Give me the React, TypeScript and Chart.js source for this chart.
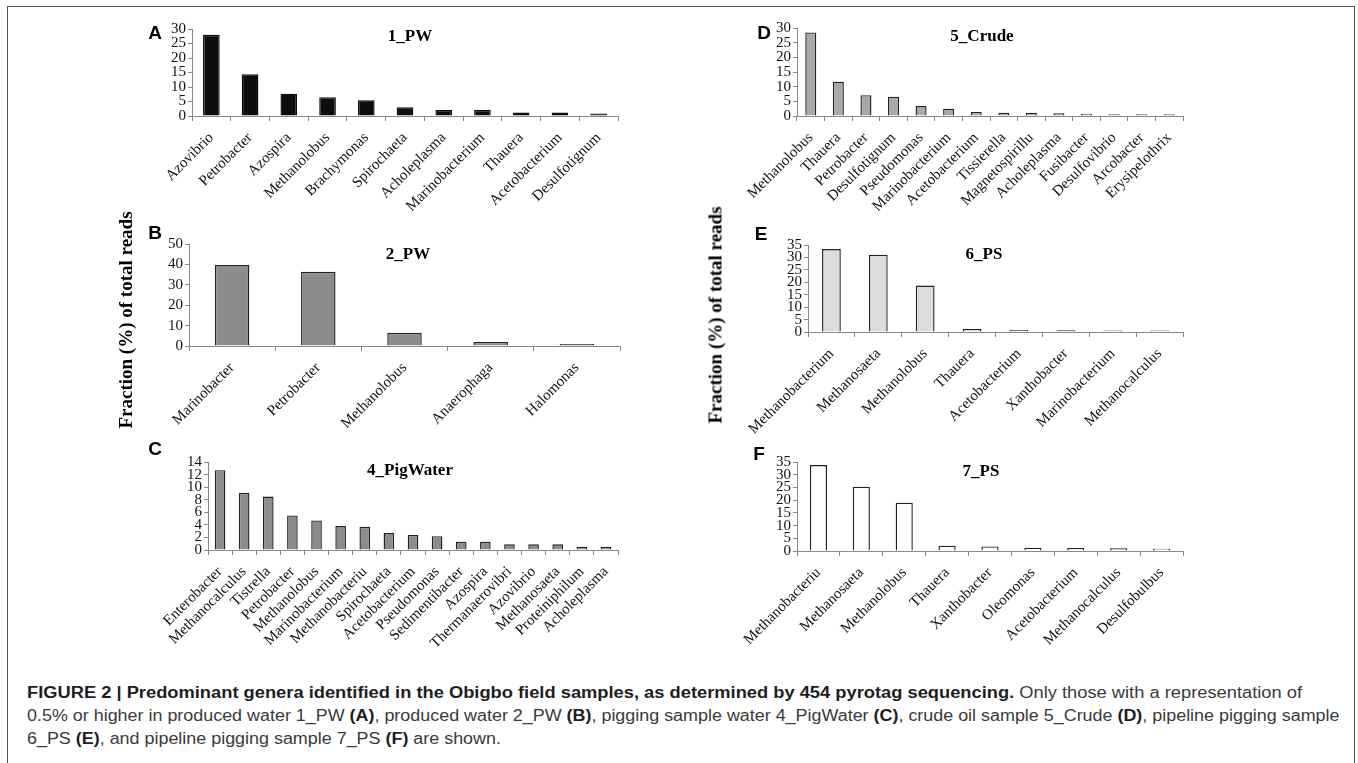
import React, { useEffect, useLayoutEffect, useRef } from "react";
import { Chart, registerables } from "chart.js";

Chart.register(...registerables);

// ---------------- data ----------------
const pw1Genera = ["Azovibrio", "Petrobacter", "Azospira", "Methanolobus", "Brachymonas", "Spirochaeta", "Acholeplasma", "Marinobacterium", "Thauera", "Acetobacterium", "Desulfotignum"];
const pw1Values = [28.0, 14.4, 7.7, 6.5, 5.4, 3.0, 2.1, 2.1, 1.2, 1.2, 0.9];
const pw1Ticks = [0, 5, 10, 15, 20, 25, 30];

const pw2Genera = ["Marinobacter", "Petrobacter", "Methanolobus", "Anaerophaga", "Halomonas"];
const pw2Values = [39.7, 36.4, 6.5, 2.0, 1.0];
const pw2Ticks = [0, 10, 20, 30, 40, 50];

const pigGenera = ["Enterobacter", "Methanocalculus", "Tistrella", "Petrobacter", "Methanolobus", "Marinobacterium", "Methanobacteriu", "Spirochaeta", "Acetobacterium", "Pseudomonas", "Sedimentibacter", "Azospira", "Thermanaerovibri", "Azovibrio", "Methanosaeta", "Proteiniphilum", "Acholeplasma"];
const pigValues = [12.7, 9.1, 8.5, 5.5, 4.7, 3.8, 3.7, 2.7, 2.4, 2.2, 1.3, 1.3, 0.9, 0.9, 0.9, 0.5, 0.5];
const pigTicks = [0, 2, 4, 6, 8, 10, 12, 14];

const crudeGenera = ["Methanolobus", "Thauera", "Petrobacter", "Desulfotignum", "Pseudomonas", "Marinobacterium", "Acetobacterium", "Tissierella", "Magnetospirillu", "Acholeplasma", "Fusibacter", "Desulfovibrio", "Arcobacter", "Erysipelothrix"];
const crudeValues = [28.5, 11.7, 7.1, 6.6, 3.4, 2.5, 1.4, 1.15, 1.15, 0.9, 0.8, 0.6, 0.6, 0.6];
const crudeTicks = [0, 5, 10, 15, 20, 25, 30];

const ps6Genera = ["Methanobacterium", "Methanosaeta", "Methanolobus", "Thauera", "Acetobacterium", "Xanthobacter", "Marinobacterium", "Methanocalculus"];
const ps6Values = [33.4, 31.1, 18.7, 1.2, 0.8, 0.7, 0.6, 0.6];
const ps6Ticks = [0, 5, 10, 15, 20, 25, 30, 35];

const ps7Genera = ["Methanobacteriu", "Methanosaeta", "Methanolobus", "Thauera", "Xanthobacter", "Oleomonas", "Acetobacterium", "Methanocalculus", "Desulfobulbus"];
const ps7Values = [33.8, 25.3, 19.0, 2.1, 1.8, 1.3, 1.2, 1.05, 0.9];
const ps7Ticks = [0, 5, 10, 15, 20, 25, 30, 35];

const panelLetters = ["A", "B", "C", "D", "E", "F"];
const panelTitles = ["1_PW", "2_PW", "4_PigWater", "5_Crude", "6_PS", "7_PS"];
const yAxisTitle = "Fraction (%) of total reads";

// ---------------- styles / layout ----------------
const SERIF = "'Liberation Serif', 'Times New Roman', serif";
const SANS = "'Liberation Sans', Arial, sans-serif";
const AXIS = "#8a8a8a";

type Rect = { left: number; top: number; width: number; height: number };
type Area = { x0: number; x1: number; top: number; bottom: number };
type PanelDef = {
  labels: string[];
  values: number[];
  ticks: number[];
  fill: string;
  border: string;
  barPct: number;
  canvas: Rect;
  area: Area;
  letter: { x: number; y: number };
  title: { x: number; y: number };
};

const panels: PanelDef[] = [
  {
    labels: pw1Genera, values: pw1Values, ticks: pw1Ticks, fill: "#0d0d0d", border: "#0d0d0d", barPct: 0.43,
    canvas: { left: 90, top: 0, width: 560, height: 230 },
    area: { x0: 192, x1: 618, top: 29, bottom: 116 },
    letter: { x: 155, y: 32 }, title: { x: 410, y: 35 },
  },
  {
    labels: pw2Genera, values: pw2Values, ticks: pw2Ticks, fill: "#8c8c8c", border: "#222222", barPct: 0.4,
    canvas: { left: 90, top: 215, width: 560, height: 230 },
    area: { x0: 189, x1: 620, top: 244, bottom: 346 },
    letter: { x: 155, y: 232 }, title: { x: 408, y: 253 },
  },
  {
    labels: pigGenera, values: pigValues, ticks: pigTicks, fill: "#8c8c8c", border: "#222222", barPct: 0.44,
    canvas: { left: 90, top: 430, width: 560, height: 250 },
    area: { x0: 208, x1: 618, top: 462, bottom: 550 },
    letter: { x: 155, y: 448 }, title: { x: 410, y: 469 },
  },
  {
    labels: crudeGenera, values: crudeValues, ticks: crudeTicks, fill: "#a9a9a9", border: "#222222", barPct: 0.4,
    canvas: { left: 680, top: 0, width: 560, height: 230 },
    area: { x0: 797, x1: 1183, top: 28, bottom: 116 },
    letter: { x: 764, y: 32 }, title: { x: 982, y: 35 },
  },
  {
    labels: ps6Genera, values: ps6Values, ticks: ps6Ticks, fill: "#dcdcdc", border: "#222222", barPct: 0.4,
    canvas: { left: 680, top: 215, width: 560, height: 230 },
    area: { x0: 808, x1: 1183, top: 245, bottom: 332 },
    letter: { x: 761, y: 233 }, title: { x: 984, y: 253 },
  },
  {
    labels: ps7Genera, values: ps7Values, ticks: ps7Ticks, fill: "#ffffff", border: "#222222", barPct: 0.4,
    canvas: { left: 680, top: 430, width: 560, height: 250 },
    area: { x0: 797, x1: 1183, top: 462, bottom: 551 },
    letter: { x: 759, y: 453 }, title: { x: 981, y: 470 },
  },
];

function BarPanel({ p }: { p: PanelDef }) {
  const ref = useRef<HTMLCanvasElement | null>(null);
  useEffect(() => {
    if (!ref.current) return;
    const { canvas, area } = p;
    const max = p.ticks[p.ticks.length - 1];
    const step = p.ticks[1] - p.ticks[0];
    const chart = new Chart(ref.current, {
      type: "bar",
      data: {
        labels: p.labels,
        datasets: [
          {
            data: p.values,
            backgroundColor: p.fill,
            borderColor: p.border,
            borderWidth: 1.4,
            borderSkipped: "start",
            barPercentage: p.barPct,
            categoryPercentage: 1,
          },
        ],
      },
      options: {
        animation: false,
        responsive: false,
        maintainAspectRatio: false,
        devicePixelRatio: 1,
        events: [],
        layout: {
          padding: {
            left: 0,
            top: area.top - canvas.top,
            right: canvas.left + canvas.width - area.x1,
            bottom: 0,
          },
        },
        plugins: {
          legend: { display: false },
          tooltip: { enabled: false },
          title: { display: false },
        },
        scales: {
          x: {
            type: "category",
            offset: true,
            grid: { offset: true, drawOnChartArea: false, drawTicks: true, tickLength: 5, color: AXIS, lineWidth: 1 },
            border: { color: AXIS, width: 1 },
            ticks: {
              autoSkip: false,
              maxRotation: 45,
              minRotation: 45,
              padding: 8,
              color: "#111111",
              font: { family: SERIF, size: 15 },
            },
            afterFit: (s: any) => {
              s.height = canvas.top + canvas.height - area.bottom;
              s.paddingLeft = 0;
              s.paddingRight = 0;
            },
          },
          y: {
            min: 0,
            max,
            ticks: {
              stepSize: step,
              autoSkip: false,
              padding: 2,
              color: "#111111",
              font: { family: SERIF, size: 15 },
            },
            grid: { drawOnChartArea: false, drawTicks: true, tickLength: 4, color: AXIS, lineWidth: 1 },
            border: { color: AXIS, width: 1 },
            afterFit: (s: any) => {
              s.width = area.x0 - canvas.left;
              s.paddingTop = 0;
              s.paddingBottom = 0;
            },
          },
        },
      } as any,
    });
    return () => chart.destroy();
  }, [p]);
  return (
    <canvas
      ref={ref}
      width={p.canvas.width}
      height={p.canvas.height}
      style={{ position: "absolute", left: p.canvas.left, top: p.canvas.top, width: p.canvas.width, height: p.canvas.height }}
    />
  );
}

const centered = (x: number, y: number, extra: React.CSSProperties = {}): React.CSSProperties => ({
  position: "absolute",
  left: x,
  top: y,
  transform: "translate(-50%, -50%)",
  whiteSpace: "nowrap",
  lineHeight: 1,
  ...extra,
});

export default function App() {
  const capRefs = useRef<(HTMLSpanElement | null)[]>([]);
  useLayoutEffect(() => {
    const fit = () => {
      const [l1, l2, l3] = capRefs.current;
      if (!l1 || !l2 || !l3) return;
      [l1, l2, l3].forEach((el) => (el.style.transform = "none"));
      const s1 = 1275 / l1.offsetWidth;
      const s2 = 1312 / l2.offsetWidth;
      l1.style.transform = `scaleX(${s1})`;
      l2.style.transform = `scaleX(${s2})`;
      l3.style.transform = `scaleX(${s2})`;
    };
    fit();
    if ((document as any).fonts && (document as any).fonts.ready) {
      (document as any).fonts.ready.then(fit);
    }
  }, []);

  const capStyle: React.CSSProperties = {
    display: "inline-block",
    transformOrigin: "0 50%",
    fontFamily: "'Liberation Sans Narrow', 'Liberation Sans', Arial, sans-serif",
    fontSize: 16,
    color: "#3a3a3a",
    whiteSpace: "nowrap",
    lineHeight: 1,
  };
  const b: React.CSSProperties = { fontWeight: "bold", color: "#1e1e1e" };

  return (
    <div style={{ position: "absolute", left: 0, top: 0, width: 1358, height: 763, overflow: "hidden", background: "#ffffff" }}>
      <div
        style={{
          position: "absolute",
          left: 7,
          top: 6,
          width: 1346,
          height: 800,
          borderTop: "1.5px solid #555",
          borderLeft: "1.5px solid #555",
          borderRight: "1.5px solid #555",
        }}
      />
      {panels.map((p, i) => (
        <BarPanel key={i} p={p} />
      ))}
      {panels.map((p, i) => (
        <div key={"l" + i} style={centered(p.letter.x, p.letter.y, { fontFamily: SANS, fontWeight: "bold", fontSize: 19, color: "#000" })}>
          {panelLetters[i]}
        </div>
      ))}
      {panels.map((p, i) => (
        <div key={"t" + i} style={centered(p.title.x, p.title.y, { fontFamily: SERIF, fontWeight: "bold", fontSize: 17, color: "#000" })}>
          {panelTitles[i]}
        </div>
      ))}
      <div style={centered(125, 320, { fontFamily: SERIF, fontWeight: "bold", fontSize: 19, color: "#000", transform: "translate(-50%, -50%) rotate(-90deg)" })}>
        {yAxisTitle}
      </div>
      <div style={centered(715, 315, { fontFamily: SERIF, fontWeight: "bold", fontSize: 19, color: "#000", transform: "translate(-50%, -50%) rotate(-90deg)" })}>
        {yAxisTitle}
      </div>

      <div style={{ position: "absolute", left: 27, top: 684 }}>
        <span ref={(el) => (capRefs.current[0] = el)} style={capStyle}>
          <span style={b}>FIGURE 2 | Predominant genera identified in the Obigbo field samples, as determined by 454 pyrotag sequencing.</span> Only those with a representation of
        </span>
      </div>
      <div style={{ position: "absolute", left: 27, top: 707 }}>
        <span ref={(el) => (capRefs.current[1] = el)} style={capStyle}>
          0.5% or higher in produced water 1_PW <span style={b}>(A)</span>, produced water 2_PW <span style={b}>(B)</span>, pigging sample water 4_PigWater <span style={b}>(C)</span>, crude oil sample 5_Crude <span style={b}>(D)</span>, pipeline pigging sample
        </span>
      </div>
      <div style={{ position: "absolute", left: 27, top: 730 }}>
        <span ref={(el) => (capRefs.current[2] = el)} style={capStyle}>
          6_PS <span style={b}>(E)</span>, and pipeline pigging sample 7_PS <span style={b}>(F)</span> are shown.
        </span>
      </div>
    </div>
  );
}
